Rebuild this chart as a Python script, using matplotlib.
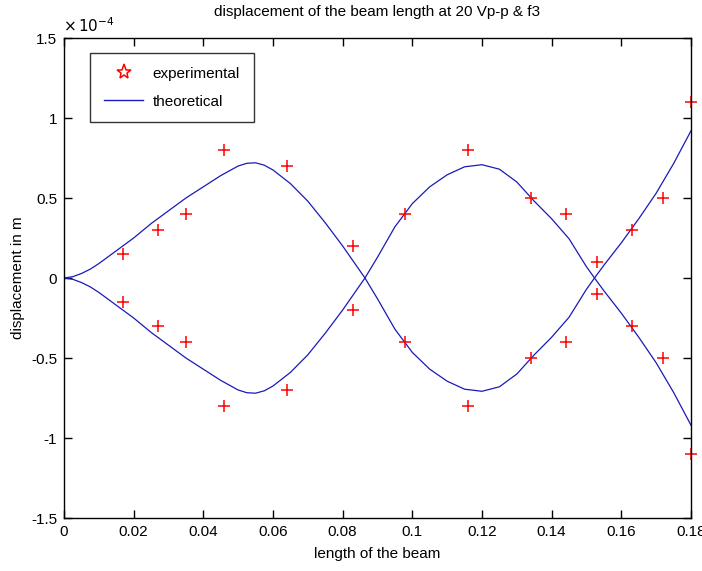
import matplotlib
matplotlib.use("Agg")
import matplotlib.pyplot as plt
from matplotlib.lines import Line2D

plt.rcParams['font.family'] = ['Liberation Sans', 'DejaVu Sans']

# experimental points (x in m, displacement in 1e-4 m)
exp_x = [0.017, 0.027, 0.035, 0.046, 0.064, 0.083, 0.098, 0.116,
         0.134, 0.144, 0.153, 0.163, 0.172, 0.180]
exp_up = [0.15, 0.3, 0.4, 0.8, 0.7, 0.2, 0.4, 0.8, 0.5, 0.4, 0.1, 0.3, 0.5, 1.1]
exp_dn = [-0.15, -0.3, -0.4, -0.8, -0.7, -0.2, -0.4, -0.8, -0.5, -0.4, -0.1, -0.3, -0.5, -1.1]

# theoretical mode shape (1e-4 m), drawn as +/- envelope
th_x = [0.000, 0.0025, 0.005, 0.0075, 0.010, 0.0125, 0.015, 0.0175, 0.020,
        0.025, 0.030, 0.035, 0.040, 0.045, 0.050, 0.0525, 0.055, 0.0575,
        0.060, 0.065, 0.070, 0.075, 0.080, 0.0864, 0.090, 0.095, 0.100,
        0.105, 0.110, 0.115, 0.120, 0.125, 0.130, 0.135, 0.140, 0.145,
        0.150, 0.1523, 0.155, 0.160, 0.165, 0.170, 0.175, 0.180]
th_y = [0.0, 0.008, 0.028, 0.055, 0.09, 0.13, 0.17, 0.21, 0.25,
        0.34, 0.42, 0.50, 0.57, 0.64, 0.70, 0.717, 0.72, 0.705,
        0.675, 0.59, 0.48, 0.345, 0.20, 0.0, -0.13, -0.32, -0.465,
        -0.57, -0.645, -0.695, -0.708, -0.68, -0.60, -0.48, -0.37, -0.245,
        -0.07, 0.0, 0.08, 0.22, 0.37, 0.53, 0.715, 0.92]
th_neg = [-v for v in th_y]

xticks = [0, 0.02, 0.04, 0.06, 0.08, 0.1, 0.12, 0.14, 0.16, 0.18]
yticks = [-1.5, -1, -0.5, 0, 0.5, 1, 1.5]

fig = plt.figure(figsize=(7.02, 5.71), dpi=100)
ax = fig.add_axes([64 / 702, 53 / 571, 627 / 702, 480 / 571])

ax.plot(th_x, th_y, color='#1a1ab8', linewidth=0.9)
ax.plot(th_x, th_neg, color='#1a1ab8', linewidth=0.9)
ax.plot(exp_x, exp_up, '+', color='red', markersize=9, mew=1.1, clip_on=False)
ax.plot(exp_x, exp_dn, '+', color='red', markersize=9, mew=1.1, clip_on=False)

ax.set_xlim(0, 0.18)
ax.set_ylim(-1.5, 1.5)
ax.set_xticks(xticks)
ax.set_xticklabels(['0', '0.02', '0.04', '0.06', '0.08', '0.1', '0.12', '0.14', '0.16', '0.18'])
ax.set_yticks(yticks)
ax.set_yticklabels(['-1.5', '-1', '-0.5', '0', '0.5', '1', '1.5'])
ax.tick_params(direction='in', top=True, right=True, length=6, width=1, labelsize=11, pad=5)
for s in ax.spines.values():
    s.set_linewidth(1.0)

ax.set_xlabel('length of the beam', fontsize=11, labelpad=6)
ax.set_ylabel('displacement in m', fontsize=11, labelpad=4)
ax.set_title('displacement of the beam length at 20 Vp-p & f3', fontsize=11, pad=16)
fig.text(63 / 702, 1 - 32 / 571, r'$\times\,10^{-4}$', fontsize=11)

handles = [Line2D([], [], marker='*', linestyle='none', color='red', mfc='none', markersize=11, mew=1.1),
           Line2D([], [], color='#1a1ab8', linewidth=1)]
leg = ax.legend(handles, ['experimental', 'theoretical'], loc='upper left',
                bbox_to_anchor=(26 / 627, 465 / 480), borderaxespad=0, fancybox=False,
                edgecolor='black', fontsize=11, handlelength=2.6, borderpad=0.9,
                labelspacing=0.9, handletextpad=0.6)
leg.get_frame().set_linewidth(1.0)

fig.savefig('out.png', dpi=100)
